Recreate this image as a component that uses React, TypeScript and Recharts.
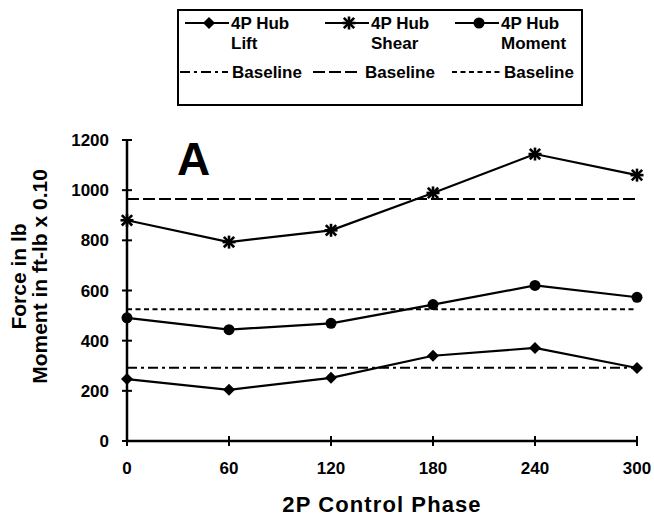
import { LineChart, Line, XAxis, YAxis, ReferenceLine, Customized } from 'recharts';

// 2P control phase (deg) and 4P hub loads
const phases = [0, 60, 120, 180, 240, 300];
const hubLift = [247, 204, 252, 340, 371, 291];
const hubShear = [880, 793, 840, 989, 1144, 1060];
const hubMoment = [491, 444, 469, 544, 620, 573];

// uncontrolled baseline levels
const baselineLift = 292;
const baselineShear = 965;
const baselineMoment = 525;

const yTicks = [0, 200, 400, 600, 800, 1000, 1200];
const seriesNames = ['Lift', 'Shear', 'Moment'];

const rows = phases.map((phase, i) => ({
  phase,
  lift: hubLift[i],
  shear: hubShear[i],
  moment: hubMoment[i],
}));

const FONT = '"Liberation Sans", Arial, Helvetica, sans-serif';
const INK = '#000';

type MarkerKind = 'diamond' | 'star' | 'circle';

function Marker({ kind, cx, cy }: { kind: MarkerKind; cx: number; cy: number }) {
  if (kind === 'diamond') {
    const s = 6;
    return <path d={`M${cx},${cy - s}L${cx + s},${cy}L${cx},${cy + s}L${cx - s},${cy}Z`} fill={INK} />;
  }
  if (kind === 'circle') {
    return <circle cx={cx} cy={cy} r={5.5} fill={INK} />;
  }
  const s = 6.5;
  const d = s * 0.8;
  return (
    <g stroke={INK} strokeWidth={2.6}>
      <line x1={cx} y1={cy - s} x2={cx} y2={cy + s} />
      <line x1={cx - d} y1={cy - d} x2={cx + d} y2={cy + d} />
      <line x1={cx - d} y1={cy + d} x2={cx + d} y2={cy - d} />
      <line x1={cx - s} y1={cy} x2={cx + s} y2={cy} />
    </g>
  );
}

const dotFor = (kind: MarkerKind) => (props: any) => (
  <Marker key={`${kind}-${props.index}`} kind={kind} cx={props.cx} cy={props.cy} />
);

const YTick = (props: any) => {
  const { x, y, payload } = props;
  const ax = x + 18;
  return (
    <g>
      <line x1={ax - 5} x2={ax + 5} y1={y} y2={y} stroke={INK} strokeWidth={2} />
      <text x={x} y={y} dy="0.36em" textAnchor="end" fontFamily={FONT} fontWeight={700} fontSize={17} fill={INK}>
        {payload.value}
      </text>
    </g>
  );
};

const XTick = (props: any) => {
  const { x, y, payload } = props;
  const ay = y - 33;
  return (
    <g>
      <line x1={x} x2={x} y1={ay - 5} y2={ay + 5} stroke={INK} strokeWidth={2} />
      <text x={x} y={y} textAnchor="middle" fontFamily={FONT} fontWeight={700} fontSize={17} fill={INK}>
        {payload.value}
      </text>
    </g>
  );
};

const YTitle = (props: any) => {
  const { x, y, height } = props.viewBox;
  const cy = y + height / 2 - 14;
  const lines = [
    { text: 'Force in lb', x: x - 41 },
    { text: 'Moment in ft-lb x 0.10', x: x - 20 },
  ];
  return (
    <g>
      {lines.map((l) => (
        <text
          key={l.text}
          x={l.x}
          y={cy}
          transform={`rotate(-90, ${l.x}, ${cy})`}
          textAnchor="middle"
          fontFamily={FONT}
          fontWeight={700}
          fontSize={21}
          fill={INK}
        >
          {l.text}
        </text>
      ))}
    </g>
  );
};

const XTitle = (props: any) => {
  const { x, y, width } = props.viewBox;
  return (
    <text
      x={x + width / 2}
      y={y + 71}
      textAnchor="middle"
      fontFamily={FONT}
      fontWeight={700}
      fontSize={22}
      letterSpacing={1.1}
      fill={INK}
    >
      2P Control Phase
    </text>
  );
};

const PanelLetter = () => (
  <text x={177} y={175} fontFamily={FONT} fontWeight={700} fontSize={46} fill={INK}>
    A
  </text>
);

const markerKinds: MarkerKind[] = ['diamond', 'star', 'circle'];
const baselineDash = ['10 4 3 4', '12 4', '5 3.5'];

function LegendBox() {
  const colX = [8, 148, 278];
  const dashX = [3, 136, 275];
  const txt = { fontFamily: FONT, fontWeight: 700, fontSize: 17, fill: INK } as const;
  return (
    <svg
      width={406}
      height={97}
      style={{ position: 'absolute', left: 177, top: 9, overflow: 'visible' }}
    >
      <rect x={1} y={1} width={404} height={95} fill="#fff" stroke={INK} strokeWidth={2} />
      {seriesNames.map((name, i) => (
        <g key={name}>
          <line x1={colX[i]} x2={colX[i] + 44} y1={14} y2={14} stroke={INK} strokeWidth={2} />
          <Marker kind={markerKinds[i]} cx={colX[i] + 24} cy={14} />
          <text x={colX[i] + 46} y={20} {...txt}>4P Hub</text>
          <text x={colX[i] + 46} y={40} {...txt}>{name}</text>
          <line
            x1={dashX[i]}
            x2={dashX[i] + 48}
            y1={63}
            y2={63}
            stroke={INK}
            strokeWidth={2}
            strokeDasharray={baselineDash[i]}
          />
          <text x={dashX[i] + 52} y={69} {...txt}>Baseline</text>
        </g>
      ))}
    </svg>
  );
}

export default function App() {
  return (
    <div style={{ position: 'relative', width: 654, height: 521, background: '#fff' }}>
      <style>{'body{margin:0}'}</style>
      <LineChart width={654} height={521} data={rows} margin={{ top: 140, right: 17, bottom: 20, left: 67 }}>
        <XAxis
          dataKey="phase"
          type="number"
          domain={[0, 300]}
          ticks={phases}
          height={60}
          axisLine={{ stroke: INK, strokeWidth: 2.5 }}
          tickLine={false}
          tickSize={0}
          tickMargin={33}
          tick={<XTick />}
          label={<XTitle />}
        />
        <YAxis
          type="number"
          domain={[0, 1200]}
          ticks={yTicks}
          width={60}
          axisLine={{ stroke: INK, strokeWidth: 2.5 }}
          tickLine={false}
          tickSize={0}
          tickMargin={18}
          tick={<YTick />}
          label={<YTitle />}
        />
        <ReferenceLine y={baselineLift} stroke={INK} strokeWidth={2} strokeDasharray={baselineDash[0]} />
        <ReferenceLine y={baselineShear} stroke={INK} strokeWidth={2} strokeDasharray={baselineDash[1]} />
        <ReferenceLine y={baselineMoment} stroke={INK} strokeWidth={2} strokeDasharray={baselineDash[2]} />
        <Line
          dataKey="lift"
          stroke={INK}
          strokeWidth={2.2}
          dot={dotFor('diamond')}
          activeDot={false}
          isAnimationActive={false}
        />
        <Line
          dataKey="shear"
          stroke={INK}
          strokeWidth={2.2}
          dot={dotFor('star')}
          activeDot={false}
          isAnimationActive={false}
        />
        <Line
          dataKey="moment"
          stroke={INK}
          strokeWidth={2.2}
          dot={dotFor('circle')}
          activeDot={false}
          isAnimationActive={false}
        />
        <Customized component={PanelLetter} />
      </LineChart>
      <LegendBox />
    </div>
  );
}
